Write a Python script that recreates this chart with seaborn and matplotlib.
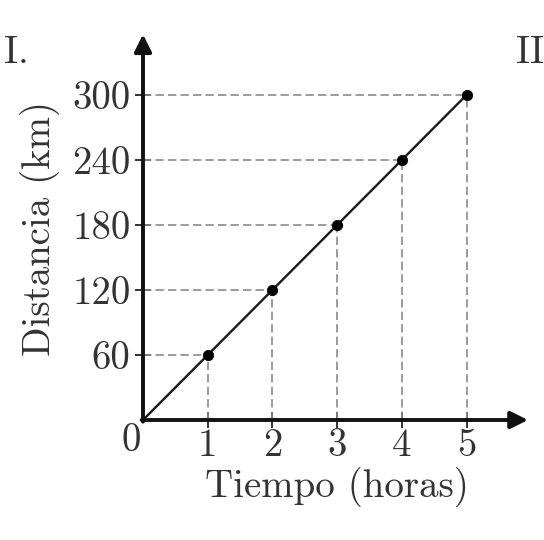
import matplotlib
matplotlib.use("Agg")
import matplotlib.pyplot as plt
import seaborn as sns
import pandas as pd

# ---- data ----
horas = [1, 2, 3, 4, 5]
distancia = [60, 120, 180, 240, 300]
x_ticks = [1, 2, 3, 4, 5]
y_ticks = [60, 120, 180, 240, 300]

sns.set_theme(style="white")
plt.rcParams["font.family"] = ["cmr10", "DejaVu Serif"]
plt.rcParams["axes.formatter.use_mathtext"] = True

W, H = 544, 540
fig = plt.figure(figsize=(W / 100, H / 100), dpi=100)
# origin at pixel (143, 420); 1 hour ~ 64.7 px, 60 km ~ 65 px
ax = fig.add_axes([143 / W, 120 / H, 6 * 64.7 / W, 360 * 65 / 60 / H])
ax.set_xlim(0, 6)
ax.set_ylim(0, 360)

df = pd.DataFrame({"t": [0] + horas, "d": [0] + distancia})
pts = pd.DataFrame({"t": horas, "d": distancia})

# guide lines
dash_col = "#8a8a8a"
ax.vlines(horas, 0, distancia, colors=dash_col, linestyles=(0, (5, 2.5)), lw=1.2, zorder=1)
ax.hlines(distancia, 0, horas, colors=dash_col, linestyles=(0, (5, 2.5)), lw=1.2, zorder=1)

sns.lineplot(data=df, x="t", y="d", ax=ax, color="#1a1a1a", lw=1.7, zorder=3)
sns.scatterplot(data=pts, x="t", y="d", ax=ax, color="black", s=55,
                edgecolor="black", zorder=4)

# axes as arrows
for s in ax.spines.values():
    s.set_visible(False)
arrow = dict(arrowstyle="-|>", lw=2.8, color="#111111", mutation_scale=26,
             shrinkA=0, shrinkB=0)
ax.annotate("", xy=(5.95, 0), xytext=(-0.02, 0), arrowprops=arrow,
            annotation_clip=False, zorder=5)
ax.annotate("", xy=(0, 356), xytext=(0, -1.5), arrowprops=arrow,
            annotation_clip=False, zorder=5)

ax.set_xticks(x_ticks)
ax.set_yticks(y_ticks)
ax.set_xticklabels([str(v) for v in x_ticks])
ax.set_yticklabels([str(v) for v in y_ticks])
ax.tick_params(axis="both", direction="inout", length=12, width=1.3,
               color="#222222", labelsize=28, labelcolor="#333333",
               bottom=True, left=True)
ax.tick_params(axis="x", pad=0)
ax.tick_params(axis="y", pad=3)
ax.set_xlabel("")
ax.set_ylabel("")
ax.grid(False)

txt = dict(color="#333333", fontsize=28)
fig.text(131 / W, 1 - 441 / H, "0", ha="center", va="center", **txt)
fig.text(337 / W, 1 - 487 / H, "Tiempo (horas)", ha="center", va="center", **txt)
fig.text(40 / W, 1 - 228 / H, "Distancia (km)", ha="center", va="center",
         rotation=90, **txt)
fig.text(4 / W, 1 - 53 / H, "I.", ha="left", va="center", **txt)
fig.text(516 / W, 1 - 53 / H, "II", ha="left", va="center", **txt)

fig.savefig("out.png", dpi=100)
